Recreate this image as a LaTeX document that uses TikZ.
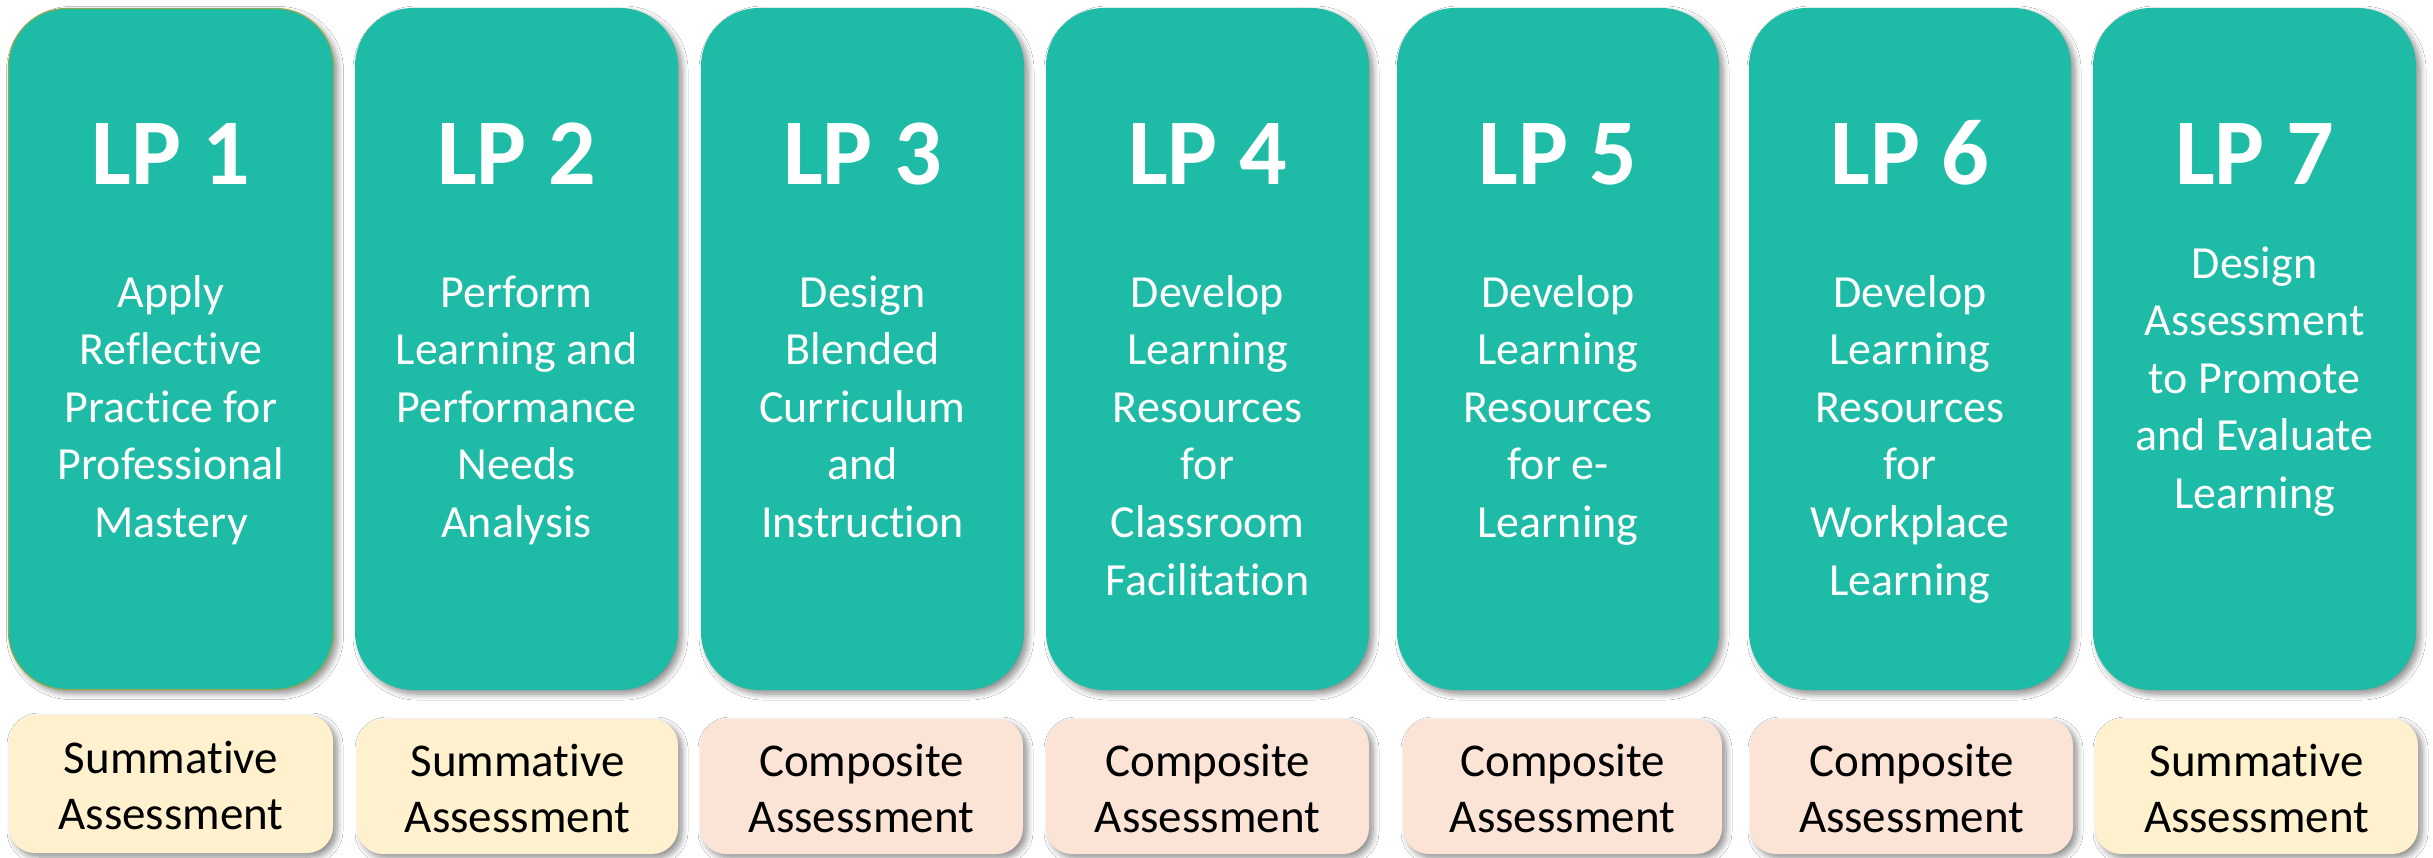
\documentclass[tikz,border=0pt]{standalone}
\usepackage{fontspec}
\setmainfont{Carlito}[Ligatures=NoCommon]
\usetikzlibrary{shadows.blur}
\definecolor{teal1}{RGB}{30,187,167}
\definecolor{sumfill}{RGB}{255,241,205}
\definecolor{compfill}{RGB}{251,228,214}
\definecolor{oliveedge}{RGB}{140,170,80}
\tikzset{
  shad/.style={blur shadow={shadow xshift=4pt,shadow yshift=-4pt,shadow blur radius=6pt,shadow blur steps=8,shadow opacity=45}},
  lpbox/.style={shad,fill=teal1,draw=none,rounded corners=58pt,inner sep=0pt},
  asbox/.style={shad,draw=none,rounded corners=26pt,inner sep=0pt},
  lptitle/.style={anchor=base,text=white,inner sep=0pt,font=\fontsize{94}{110}\selectfont\bfseries},
  lpdesc/.style={anchor=base,text=white,inner sep=0pt,align=center,font=\fontsize{46}{57.6}\selectfont},
  astext/.style={anchor=base,text=black,inner sep=0pt,align=center,font=\fontsize{47}{56}\selectfont},
}
\begin{document}
\begin{tikzpicture}[x=1pt,y=-1pt]
\useasboundingbox[fill=white] (0,0) rectangle (2433,858);
% top boxes
\node[lpbox,draw=oliveedge,line width=1.2pt,minimum width=325pt,minimum height=681pt] (b1) at (171,349) {};
\node[lpbox,minimum width=323pt,minimum height=682pt] (b2) at (516.5,349) {};
\node[lpbox,minimum width=323pt,minimum height=682pt] (b3) at (862.5,349) {};
\node[lpbox,minimum width=323pt,minimum height=682pt] (b4) at (1207.5,349) {};
\node[lpbox,minimum width=322pt,minimum height=682pt] (b5) at (1558,349) {};
\node[lpbox,minimum width=322pt,minimum height=682pt] (b6) at (1910,349) {};
\node[lpbox,minimum width=323pt,minimum height=682pt] (b7) at (2254.5,349) {};
% titles
\node[lptitle] (t1) at (171,185) {LP 1};
\node[lptitle] (t2) at (516.5,185) {LP 2};
\node[lptitle] (t3) at (862.5,185) {LP 3};
\node[lptitle] (t4) at (1207.5,185) {LP 4};
\node[lptitle] (t5) at (1558,185) {LP 5};
\node[lptitle] (t6) at (1910,185) {LP 6};
\node[lptitle] (t7) at (2254.5,185) {LP 7};
% descriptions (anchor = baseline of last line)
\node[lpdesc] (d1) at (171,537.4) {Apply\\Reflective\\Practice for\\Professional\\Mastery};
\node[lpdesc] (d2) at (516.5,537.4) {Perform\\Learning and\\Performance\\Needs\\Analysis};
\node[lpdesc] (d3) at (862.5,537.4) {Design\\Blended\\Curriculum\\and\\Instruction};
\node[lpdesc] (d4) at (1207.5,595) {Develop\\Learning\\Resources\\for\\Classroom\\Facilitation};
\node[lpdesc] (d5) at (1558,537.4) {Develop\\Learning\\Resources\\for e-\\Learning};
\node[lpdesc] (d6) at (1910,595) {Develop\\Learning\\Resources\\for\\Workplace\\Learning};
\node[lpdesc] (d7) at (2254.5,508.4) {Design\\Assessment\\to Promote\\and Evaluate\\Learning};
% bottom boxes
\node[asbox,fill=sumfill,minimum width=324pt,minimum height=138pt] (a1) at (171,784) {};
\node[asbox,fill=sumfill,minimum width=321pt,minimum height=135pt] (a2) at (517.5,786.5) {};
\node[asbox,fill=compfill,minimum width=323pt,minimum height=135pt] (a3) at (861.5,786.5) {};
\node[asbox,fill=compfill,minimum width=323pt,minimum height=135pt] (a4) at (1207.5,786.5) {};
\node[asbox,fill=compfill,minimum width=319pt,minimum height=135pt] (a5) at (1562.5,786.5) {};
\node[asbox,fill=compfill,minimum width=323pt,minimum height=135pt] (a6) at (1911.5,786.5) {};
\node[asbox,fill=sumfill,minimum width=323pt,minimum height=135pt] (a7) at (2256.5,786.5) {};
% bottom texts (anchor = baseline of last line)
\node[astext] (s1) at (171,829) {Summative\\Assessment};
\node[astext] (s2) at (517.5,832) {Summative\\Assessment};
\node[astext] (s3) at (861.5,832) {Composite\\Assessment};
\node[astext] (s4) at (1207.5,832) {Composite\\Assessment};
\node[astext] (s5) at (1562.5,832) {Composite\\Assessment};
\node[astext] (s6) at (1911.5,832) {Composite\\Assessment};
\node[astext] (s7) at (2256.5,832) {Summative\\Assessment};
\end{tikzpicture}
\end{document}
